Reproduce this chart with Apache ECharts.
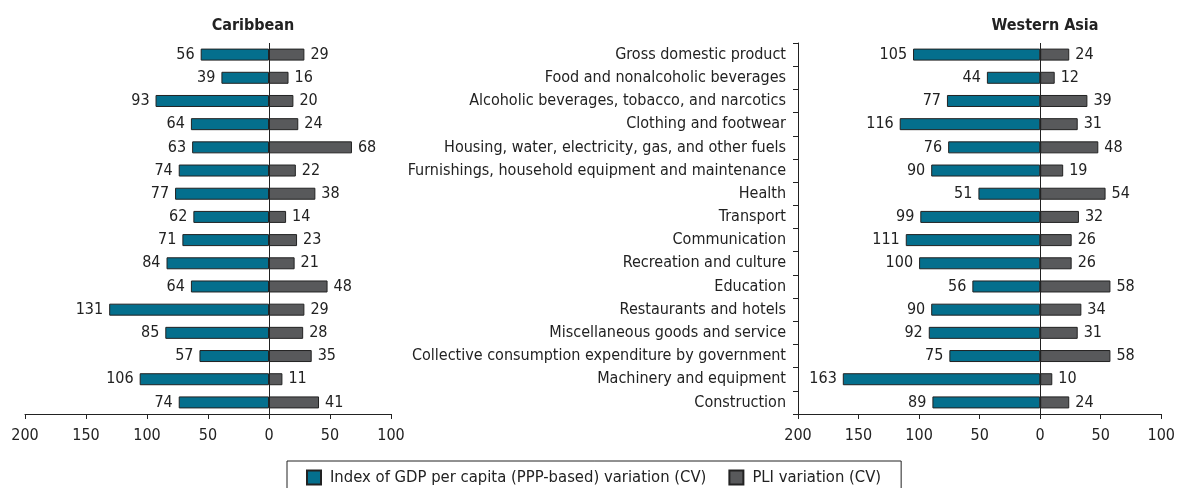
<!DOCTYPE html>
<html>
<head>
<meta charset="utf-8">
<script src="https://cdn.jsdelivr.net/npm/echarts@6/dist/echarts.min.js"></script>
<style>
  html, body { margin: 0; padding: 0; background: #fff; }
  #chart { width: 1178px; height: 488px; }
</style>
</head>
<body>
<div id="chart"></div>
<script>
'use strict';

var categories = [
  'Gross domestic product',
  'Food and nonalcoholic beverages',
  'Alcoholic beverages, tobacco, and narcotics',
  'Clothing and footwear',
  'Housing, water, electricity, gas, and other fuels',
  'Furnishings, household equipment and maintenance',
  'Health',
  'Transport',
  'Communication',
  'Recreation and culture',
  'Education',
  'Restaurants and hotels',
  'Miscellaneous goods and service',
  'Collective consumption expenditure by government',
  'Machinery and equipment',
  'Construction'
];

var caribGdp = [56, 39, 93, 64, 63, 74, 77, 62, 71, 84, 64, 131, 85, 57, 106, 74];
var caribPli = [29, 16, 20, 24, 68, 22, 38, 14, 23, 21, 48, 29, 28, 35, 11, 41];
var waGdp = [105, 44, 77, 116, 76, 90, 51, 99, 111, 100, 56, 90, 92, 75, 163, 89];
var waPli = [24, 12, 39, 31, 48, 19, 54, 32, 26, 26, 58, 34, 31, 58, 10, 24];

var regions = ['Caribbean', 'Western Asia'];
var gdpName = 'Index of GDP per capita (PPP-based) variation (CV)';
var pliName = 'PLI variation (CV)';

var FONT = '"Liberation Sans Narrow", "DejaVu Sans Condensed", "Roboto Condensed", sans-serif';
var BLUE = '#046f8d';
var GREY = '#58595b';

function neg(arr) {
  return arr.map(function (v) { return -v; });
}

function xAxisCfg(idx) {
  return {
    type: 'value',
    gridIndex: idx,
    min: -200,
    max: 100,
    interval: 50,
    axisLine: { show: true, onZero: false, lineStyle: { color: '#222', width: 1 } },
    axisTick: { show: true, length: 5, lineStyle: { color: '#222' } },
    splitLine: { show: false },
    axisLabel: {
      color: '#222',
      fontFamily: FONT,
      fontSize: 16,
      margin: 14,
      formatter: function (v) { return Math.abs(v); }
    }
  };
}

function zeroLine() {
  return {
    silent: true,
    symbol: 'none',
    label: { show: false },
    lineStyle: { color: '#222', width: 1, type: 'solid' },
    data: [{ xAxis: 0 }]
  };
}

function barSeries(name, data, idx, color, left, withZero) {
  var s = {
    name: name,
    type: 'bar',
    xAxisIndex: idx,
    yAxisIndex: idx,
    data: left ? neg(data) : data,
    barWidth: 12,
    barGap: '-100%',
    itemStyle: { color: color, borderColor: '#222', borderWidth: 1 },
    label: {
      show: true,
      position: left ? 'left' : 'right',
      distance: 6,
      color: '#222',
      fontFamily: FONT,
      fontSize: 16,
      formatter: function (p) { return Math.abs(p.value); }
    },
    z: 2
  };
  if (withZero) s.markLine = zeroLine();
  return s;
}

var myChart = echarts.init(document.getElementById('chart'));
myChart.setOption({
  animation: false,
  textStyle: { fontFamily: FONT },
  title: [{
    text: regions[0],
    left: 248,
    top: 13,
    textAlign: 'center',
    textStyle: { fontFamily: FONT, fontSize: 16, fontWeight: 'bold', color: '#222' }
  }, {
    text: regions[1],
    left: 1040,
    top: 13,
    textAlign: 'center',
    textStyle: { fontFamily: FONT, fontSize: 16, fontWeight: 'bold', color: '#222' }
  }],
  legend: {
    left: 287,
    top: 461,
    itemWidth: 14,
    itemHeight: 14,
    itemGap: 22,
    padding: [8, 20, 10, 19],
    borderColor: '#222',
    borderWidth: 1,
    textStyle: { fontFamily: FONT, fontSize: 16.5, color: '#222', padding: [0, 0, 0, 4] },
    data: [
      { name: gdpName, icon: 'rect' },
      { name: pliName, icon: 'rect' }
    ]
  },
  grid: [
    { left: 25, width: 366, top: 43, height: 371, containLabel: false },
    { left: 798, width: 369, top: 43, height: 371, containLabel: false }
  ],
  xAxis: [xAxisCfg(0), xAxisCfg(1)],
  yAxis: [{
    type: 'category',
    gridIndex: 0,
    inverse: true,
    data: categories,
    axisLine: { show: false },
    axisTick: { show: false },
    axisLabel: { show: false }
  }, {
    type: 'category',
    gridIndex: 1,
    inverse: true,
    data: categories,
    axisLine: { show: true, onZero: false, lineStyle: { color: '#222', width: 1 } },
    axisTick: { show: true, length: 5, lineStyle: { color: '#222' } },
    axisLabel: { color: '#222', fontFamily: FONT, fontSize: 16, margin: 12 }
  }],
  series: [
    barSeries(gdpName, caribGdp, 0, BLUE, true, true),
    barSeries(pliName, caribPli, 0, GREY, false, false),
    barSeries(gdpName, waGdp, 1, BLUE, true, true),
    barSeries(pliName, waPli, 1, GREY, false, false)
  ]
});
</script>
</body>
</html>
